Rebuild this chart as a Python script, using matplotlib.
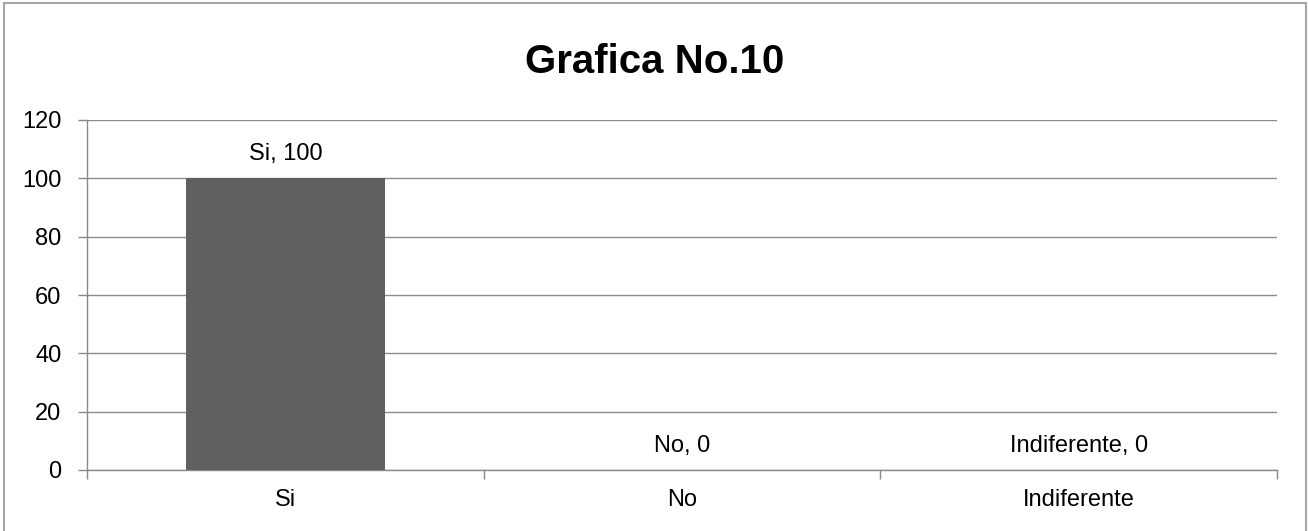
import matplotlib.pyplot as plt
from matplotlib.patches import Rectangle

categories = ['Si', 'No', 'Indiferente']
values = [100, 0, 0]
yticks = [0, 20, 40, 60, 80, 100, 120]

plt.rcParams['font.family'] = ['Liberation Sans Narrow', 'Liberation Sans', 'DejaVu Sans']

fig = plt.figure(figsize=(13.09, 5.31), dpi=100)
ax = fig.add_axes([87 / 1309, 1 - 470 / 531, 1190 / 1309, 350 / 531])

x = range(len(categories))
ax.bar(x, values, width=0.5, color='#606060', zorder=3)

# data labels "category, value"
for i, (c, v) in enumerate(zip(categories, values)):
    ax.annotate(f'{c}, {v}', (i, v), xytext=(0, 13), textcoords='offset points',
                ha='center', va='baseline', fontsize=17)

ax.set_xlim(-0.5, 2.5)
ax.set_ylim(0, 120)
ax.set_yticks(yticks)
ax.set_xticks(list(x))
ax.set_xticklabels(categories, fontsize=17)
ax.set_xticks([-0.5, 0.5, 1.5, 2.5], minor=True)
ax.tick_params(axis='x', which='major', length=0, pad=14)
ax.tick_params(axis='x', which='minor', length=6.5, color='#888888', width=1)
ax.tick_params(axis='y', length=6.5, color='#888888', width=1, labelsize=17, pad=12)
ax.yaxis.grid(True, color='#8c8c8c', linewidth=1, zorder=0)

for s in ['top', 'right']:
    ax.spines[s].set_visible(False)
for s in ['left', 'bottom']:
    ax.spines[s].set_color('#888888')
    ax.spines[s].set_linewidth(1)

fig.text(655 / 1309, 1 - 73 / 531, 'Grafica No.10', ha='center', va='baseline',
         fontsize=29, fontweight='bold')

# chart area border (bottom edge falls just outside the image)
fig.patches.append(Rectangle((3.5 / 1309, -3 / 531), 1302.5 / 1309, 531 / 531,
                             transform=fig.transFigure, fill=False,
                             edgecolor='#a6a6a6', linewidth=1.5))

fig.savefig('out.png', dpi=100)
